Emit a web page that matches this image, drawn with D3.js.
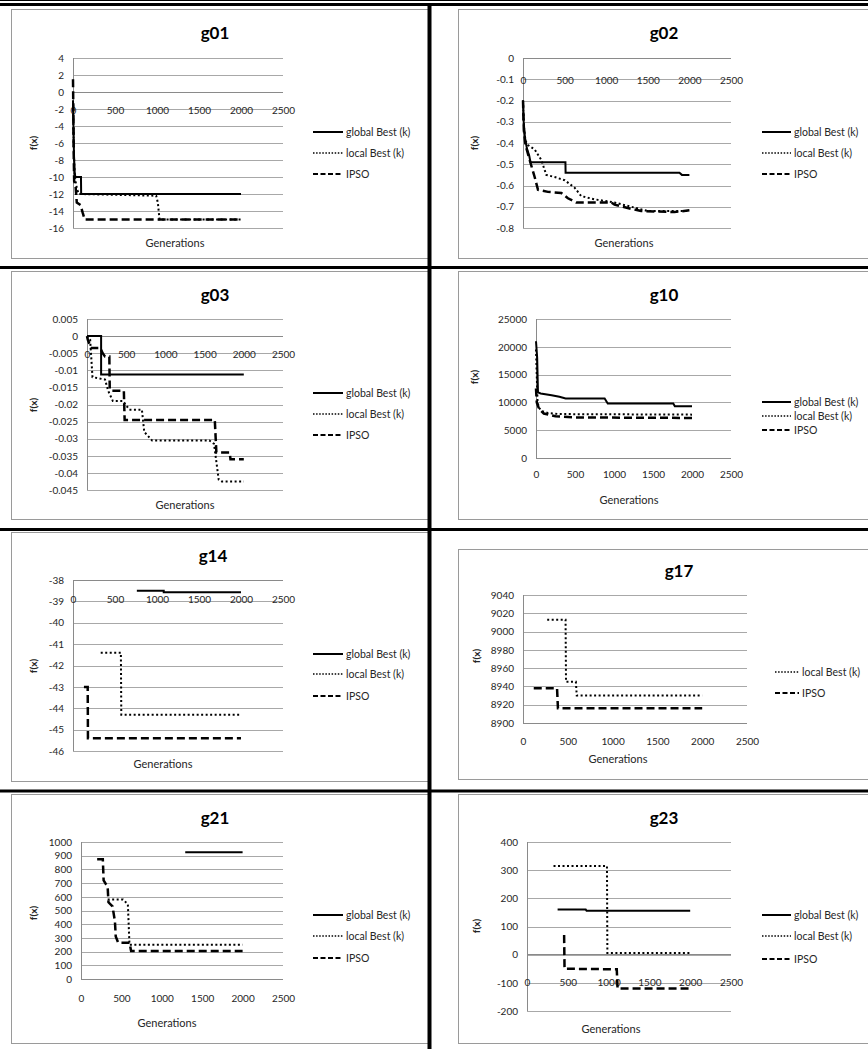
<!DOCTYPE html>
<html>
<head>
<meta charset="utf-8">
<script src="https://cdn.jsdelivr.net/npm/d3@7"></script>
<style>
  body { margin: 0; background: #fff; }
  svg { display: block; }
  text { font-family: Lato, 'Open Sans', sans-serif; }
</style>
</head>
<body>
<svg id="page" width="868" height="1049"></svg>
<script>
// Shared axis values
const xTicks = [0, 500, 1000, 1500, 2000, 2500];
const seriesNames = ['global Best (k)', 'local Best (k)', 'IPSO'];

// g01
const g01YTicks = [4, 2, 0, -2, -4, -6, -8, -10, -12, -14, -16];
const g01Global = [[0, -1], [5, -4], [12, -7.5], [20, -9.5], [28, -10], [95, -10], [97, -12], [2000, -12]];
const g01Local = [[0, -1], [8, -6], [18, -9.5], [30, -10.5], [50, -11.5], [70, -12], [990, -12.2], [1010, -13], [1030, -15], [2000, -15]];
const g01Ipso = [[0, 1.5], [4, -2], [8, -7], [14, -10.5], [30, -11], [45, -13], [90, -13.3], [115, -14.2], [140, -15], [2000, -15]];

// g02
const g02YTicks = [0, -0.1, -0.2, -0.3, -0.4, -0.5, -0.6, -0.7, -0.8];
const g02Global = [[0, -0.2], [8, -0.3], [25, -0.38], [50, -0.43], [75, -0.46], [90, -0.49], [510, -0.49], [512, -0.54], [1880, -0.54], [1910, -0.55], [2000, -0.55]];
const g02Local = [[0, -0.2], [10, -0.32], [30, -0.39], [60, -0.41], [140, -0.43], [220, -0.48], [280, -0.55], [380, -0.56], [500, -0.575], [620, -0.61], [700, -0.65], [860, -0.665], [1100, -0.68], [1300, -0.7], [1500, -0.72], [2000, -0.72]];
const g02Ipso = [[0, -0.2], [10, -0.34], [30, -0.41], [80, -0.48], [140, -0.56], [180, -0.62], [300, -0.63], [460, -0.635], [540, -0.66], [640, -0.68], [1060, -0.68], [1100, -0.69], [1300, -0.71], [1420, -0.72], [1820, -0.725], [2000, -0.717]];

// g03
const g03YTicks = [0.005, 0, -0.005, -0.01, -0.015, -0.02, -0.025, -0.03, -0.035, -0.04, -0.045];
const g03Global = [[0, 0], [180, 0], [180, -0.0112], [2000, -0.0112]];
const g03Local = [[0, 0], [40, -0.001], [70, -0.012], [230, -0.0127], [270, -0.016], [330, -0.019], [460, -0.019], [540, -0.0215], [700, -0.0215], [730, -0.028], [830, -0.0305], [1560, -0.0305], [1620, -0.0315], [1680, -0.042], [1720, -0.0425], [2000, -0.0425]];
const g03Ipso = [[0, 0], [10, -0.001], [50, -0.0035], [170, -0.0035], [200, -0.005], [230, -0.006], [285, -0.006], [290, -0.0155], [310, -0.016], [470, -0.016], [480, -0.0245], [1630, -0.0245], [1650, -0.034], [1820, -0.034], [1830, -0.036], [2000, -0.036]];

// g10
const g10YTicks = [25000, 20000, 15000, 10000, 5000, 0];
const g10Global = [[0, 21000], [15, 18000], [25, 11800], [60, 11600], [200, 11300], [300, 11000], [380, 10700], [880, 10700], [920, 9800], [1760, 9800], [1780, 9300], [2000, 9300]];
const g10Local = [[0, 19500], [20, 10000], [40, 9000], [80, 8400], [150, 8100], [300, 7900], [2000, 7800]];
const g10Ipso = [[0, 12500], [10, 10000], [40, 8800], [100, 8000], [250, 7500], [500, 7300], [2000, 7200]];

// g14
const g14YTicks = [-38, -39, -40, -41, -42, -43, -44, -45, -46];
const g14Global = [[760, -38.5], [1080, -38.5], [1080, -38.57], [2000, -38.57]];
const g14Local = [[330, -41.4], [570, -41.4], [575, -44.3], [2000, -44.3]];
const g14Ipso = [[130, -43], [175, -43], [178, -45.4], [2000, -45.4]];

// g17 (no global Best series)
const g17YTicks = [9040, 9020, 9000, 8980, 8960, 8940, 8920, 8900];
const g17Local = [[270, 9013], [475, 9013], [480, 8945], [590, 8945], [600, 8930], [2000, 8930]];
const g17Ipso = [[120, 8938], [380, 8938], [390, 8916], [2000, 8916]];

// g21
const g21YTicks = [1000, 900, 800, 700, 600, 500, 400, 300, 200, 100, 0];
const g21Global = [[1290, 925], [2000, 925]];
const g21Local = [[330, 580], [520, 580], [580, 545], [600, 250], [2000, 250]];
const g21Ipso = [[200, 875], [270, 875], [280, 720], [310, 690], [330, 670], [340, 560], [390, 530], [420, 420], [430, 310], [460, 265], [600, 265], [620, 205], [2000, 205]];

// g23
const g23YTicks = [400, 300, 200, 100, 0, -100, -200];
const g23Global = [[375, 160], [720, 160], [730, 156], [2000, 156]];
const g23Local = [[325, 315], [980, 315], [985, 6], [2000, 6]];
const g23Ipso = [[440, 65], [455, 65], [460, -50], [1100, -52], [1110, -120], [2000, -120]];

// Line styles per series
const styles = {
  global: { width: 2, dash: null, legendWidth: 2, legendDash: null },
  local: { width: 2, dash: '2,2.5', legendWidth: 1.5, legendDash: '1.5,1.6' },
  ipso: { width: 2.5, dash: '8,4', legendWidth: 2, legendDash: '5,2.5' },
};

// Layout of each chart on the page
const charts = [
  { title: 'g01', yTicks: g01YTicks, cross: 0, box: [11, 9, 430, 258], plot: [73, 283, 58, 228], xLab: 110,
    tPos: [215, 39], fPos: [33, 143], gPos: [175, 243], leg: [313, 343, 346], rows: [132, 153, 174],
    series: [['global', g01Global], ['local', g01Local], ['ipso', g01Ipso]] },
  { title: 'g02', yTicks: g02YTicks, cross: 0, box: [458, 9, 880, 258], plot: [523, 731, 58, 228], xLab: 80,
    tPos: [664, 39], fPos: [474, 143], gPos: [624, 243], leg: [762, 791, 794], rows: [132, 153, 174],
    series: [['global', g02Global], ['local', g02Local], ['ipso', g02Ipso]] },
  { title: 'g03', yTicks: g03YTicks, cross: 0, box: [11, 271, 430, 519], plot: [87, 283, 319, 490], xLab: 354,
    tPos: [215, 301], fPos: [33, 405], gPos: [185, 505], leg: [313, 343, 346], rows: [393, 414, 435],
    series: [['global', g03Global], ['local', g03Local], ['ipso', g03Ipso]] },
  { title: 'g10', yTicks: g10YTicks, cross: 0, box: [458, 271, 880, 519], plot: [536, 731, 319, 458], xLab: 474,
    tPos: [664, 301], fPos: [474, 377], gPos: [629, 500], leg: [762, 791, 794], rows: [402, 416, 430],
    series: [['global', g10Global], ['local', g10Local], ['ipso', g10Ipso]] },
  { title: 'g14', yTicks: g14YTicks, cross: -38, box: [11, 532, 430, 781], plot: [73, 283, 580, 751], xLab: 599,
    tPos: [213, 562], fPos: [33, 666], gPos: [163, 764], leg: [313, 343, 346], rows: [654, 674, 696],
    series: [['global', g14Global], ['local', g14Local], ['ipso', g14Ipso]] },
  { title: 'g17', yTicks: g17YTicks, cross: 8900, box: [458, 549, 880, 779], plot: [523, 747, 595, 723], xLab: 741,
    tPos: [679, 577], fPos: [476, 656], gPos: [618, 759], leg: [775, 799, 802], rows: [672, 693],
    series: [['local', g17Local], ['ipso', g17Ipso]] },
  { title: 'g21', yTicks: g21YTicks, cross: 0, box: [11, 794, 430, 1043], plot: [81, 283, 842, 979], xLab: 998,
    tPos: [215, 824], fPos: [33, 913], gPos: [167, 1023], leg: [313, 343, 346], rows: [915, 936, 958],
    series: [['global', g21Global], ['local', g21Local], ['ipso', g21Ipso]] },
  { title: 'g23', yTicks: g23YTicks, cross: 0, box: [458, 794, 880, 1043], plot: [527, 731, 842, 1011], xLab: 982,
    tPos: [664, 824], fPos: [476, 926], gPos: [611, 1029], leg: [762, 791, 794], rows: [915, 936, 959],
    series: [['global', g23Global], ['local', g23Local], ['ipso', g23Ipso]] },
];

const svg = d3.select('#page');
const nameOf = { global: seriesNames[0], local: seriesNames[1], ipso: seriesNames[2] };
const fmt = (d) => String(+d.toFixed(6));
const ink = '#262626';

function drawChart(c) {
  const g = svg.append('g');
  const [pl, pr, pt, pb] = c.plot;

  // chart area border
  g.append('rect')
    .attr('x', c.box[0] + 0.5).attr('y', c.box[1] + 0.5)
    .attr('width', c.box[2] - c.box[0]).attr('height', c.box[3] - c.box[1])
    .attr('fill', '#fff').attr('stroke', '#9a9a9a');

  const x = d3.scaleLinear().domain([0, 2500]).range([pl, pr]);
  const y = d3.scaleLinear().domain(d3.extent(c.yTicks)).range([pb, pt]);

  // gridlines
  g.append('g')
    .attr('transform', 'translate(' + pl + ',0)')
    .call(d3.axisLeft(y).tickValues(c.yTicks).tickSize(-(pr - pl)).tickFormat(''))
    .call((a) => a.select('.domain').remove())
    .call((a) => a.selectAll('line').attr('stroke', '#a8a8a8').attr('shape-rendering', 'crispEdges'));

  // y labels
  g.append('g')
    .attr('transform', 'translate(' + pl + ',0)')
    .call(d3.axisLeft(y).tickValues(c.yTicks).tickSize(0).tickPadding(9).tickFormat(fmt))
    .call((a) => a.select('.domain').remove())
    .call((a) => a.selectAll('text').style('font-size', '10px').style('fill', ink));

  // axis lines
  g.append('line').attr('x1', pl).attr('x2', pl).attr('y1', pt).attr('y2', pb)
    .attr('stroke', '#8a8a8a').attr('shape-rendering', 'crispEdges');
  g.append('line').attr('x1', pl).attr('x2', pr).attr('y1', y(c.cross)).attr('y2', y(c.cross))
    .attr('stroke', '#8a8a8a').attr('shape-rendering', 'crispEdges');

  // x labels
  g.append('g')
    .attr('transform', 'translate(0,' + c.xLab + ')')
    .call(d3.axisBottom(x).tickValues(xTicks).tickSize(0).tickPadding(0).tickFormat(fmt))
    .call((a) => a.select('.domain').remove())
    .call((a) => a.selectAll('text').attr('dy', '0.35em').style('font-size', '10px').style('fill', ink));

  // series
  const line = d3.line().x((d) => x(d[0])).y((d) => y(d[1]));
  c.series.forEach(([key, data]) => {
    const s = styles[key];
    g.append('path')
      .datum(data)
      .attr('d', line)
      .attr('fill', 'none')
      .attr('stroke', '#000')
      .attr('stroke-width', s.width)
      .attr('stroke-dasharray', s.dash);
  });

  // title and axis titles
  g.append('text').attr('x', c.tPos[0]).attr('y', c.tPos[1])
    .attr('text-anchor', 'middle').style('font-size', '17px').style('font-weight', 'bold')
    .style('fill', '#000').text(c.title);
  g.append('text')
    .attr('transform', 'translate(' + c.fPos[0] + ',' + c.fPos[1] + ') rotate(-90)')
    .attr('text-anchor', 'middle').attr('dy', '0.35em')
    .style('font-size', '10px').style('font-weight', 'bold').style('fill', ink).text('f(x)');
  g.append('text').attr('x', c.gPos[0]).attr('y', c.gPos[1]).attr('dy', '0.35em')
    .attr('text-anchor', 'middle').style('font-size', '11px').style('fill', ink).text('Generations');

  // legend
  c.series.forEach(([key], i) => {
    const s = styles[key];
    const ry = c.rows[i];
    g.append('line').attr('x1', c.leg[0]).attr('x2', c.leg[1]).attr('y1', ry).attr('y2', ry)
      .attr('stroke', '#000').attr('stroke-width', s.legendWidth)
      .attr('stroke-dasharray', s.legendDash);
    g.append('text').attr('x', c.leg[2]).attr('y', ry).attr('dy', '0.35em')
      .style('font-size', '10.5px').style('fill', ink).text(nameOf[key]);
  });
}

charts.forEach(drawChart);

// table rules
const rule = (x1, y1, x2, y2, w) =>
  svg.append('line').attr('x1', x1).attr('y1', y1).attr('x2', x2).attr('y2', y2)
    .attr('stroke', '#000').attr('stroke-width', w);
rule(0, 0.5, 868, 0.5, 1);
rule(0, 4.5, 868, 4.5, 3);
[267.5, 529.5, 791].forEach((yy) => rule(0, yy, 868, yy, 3));
rule(429.5, 3, 429.5, 1049, 4);
</script>
</body>
</html>
